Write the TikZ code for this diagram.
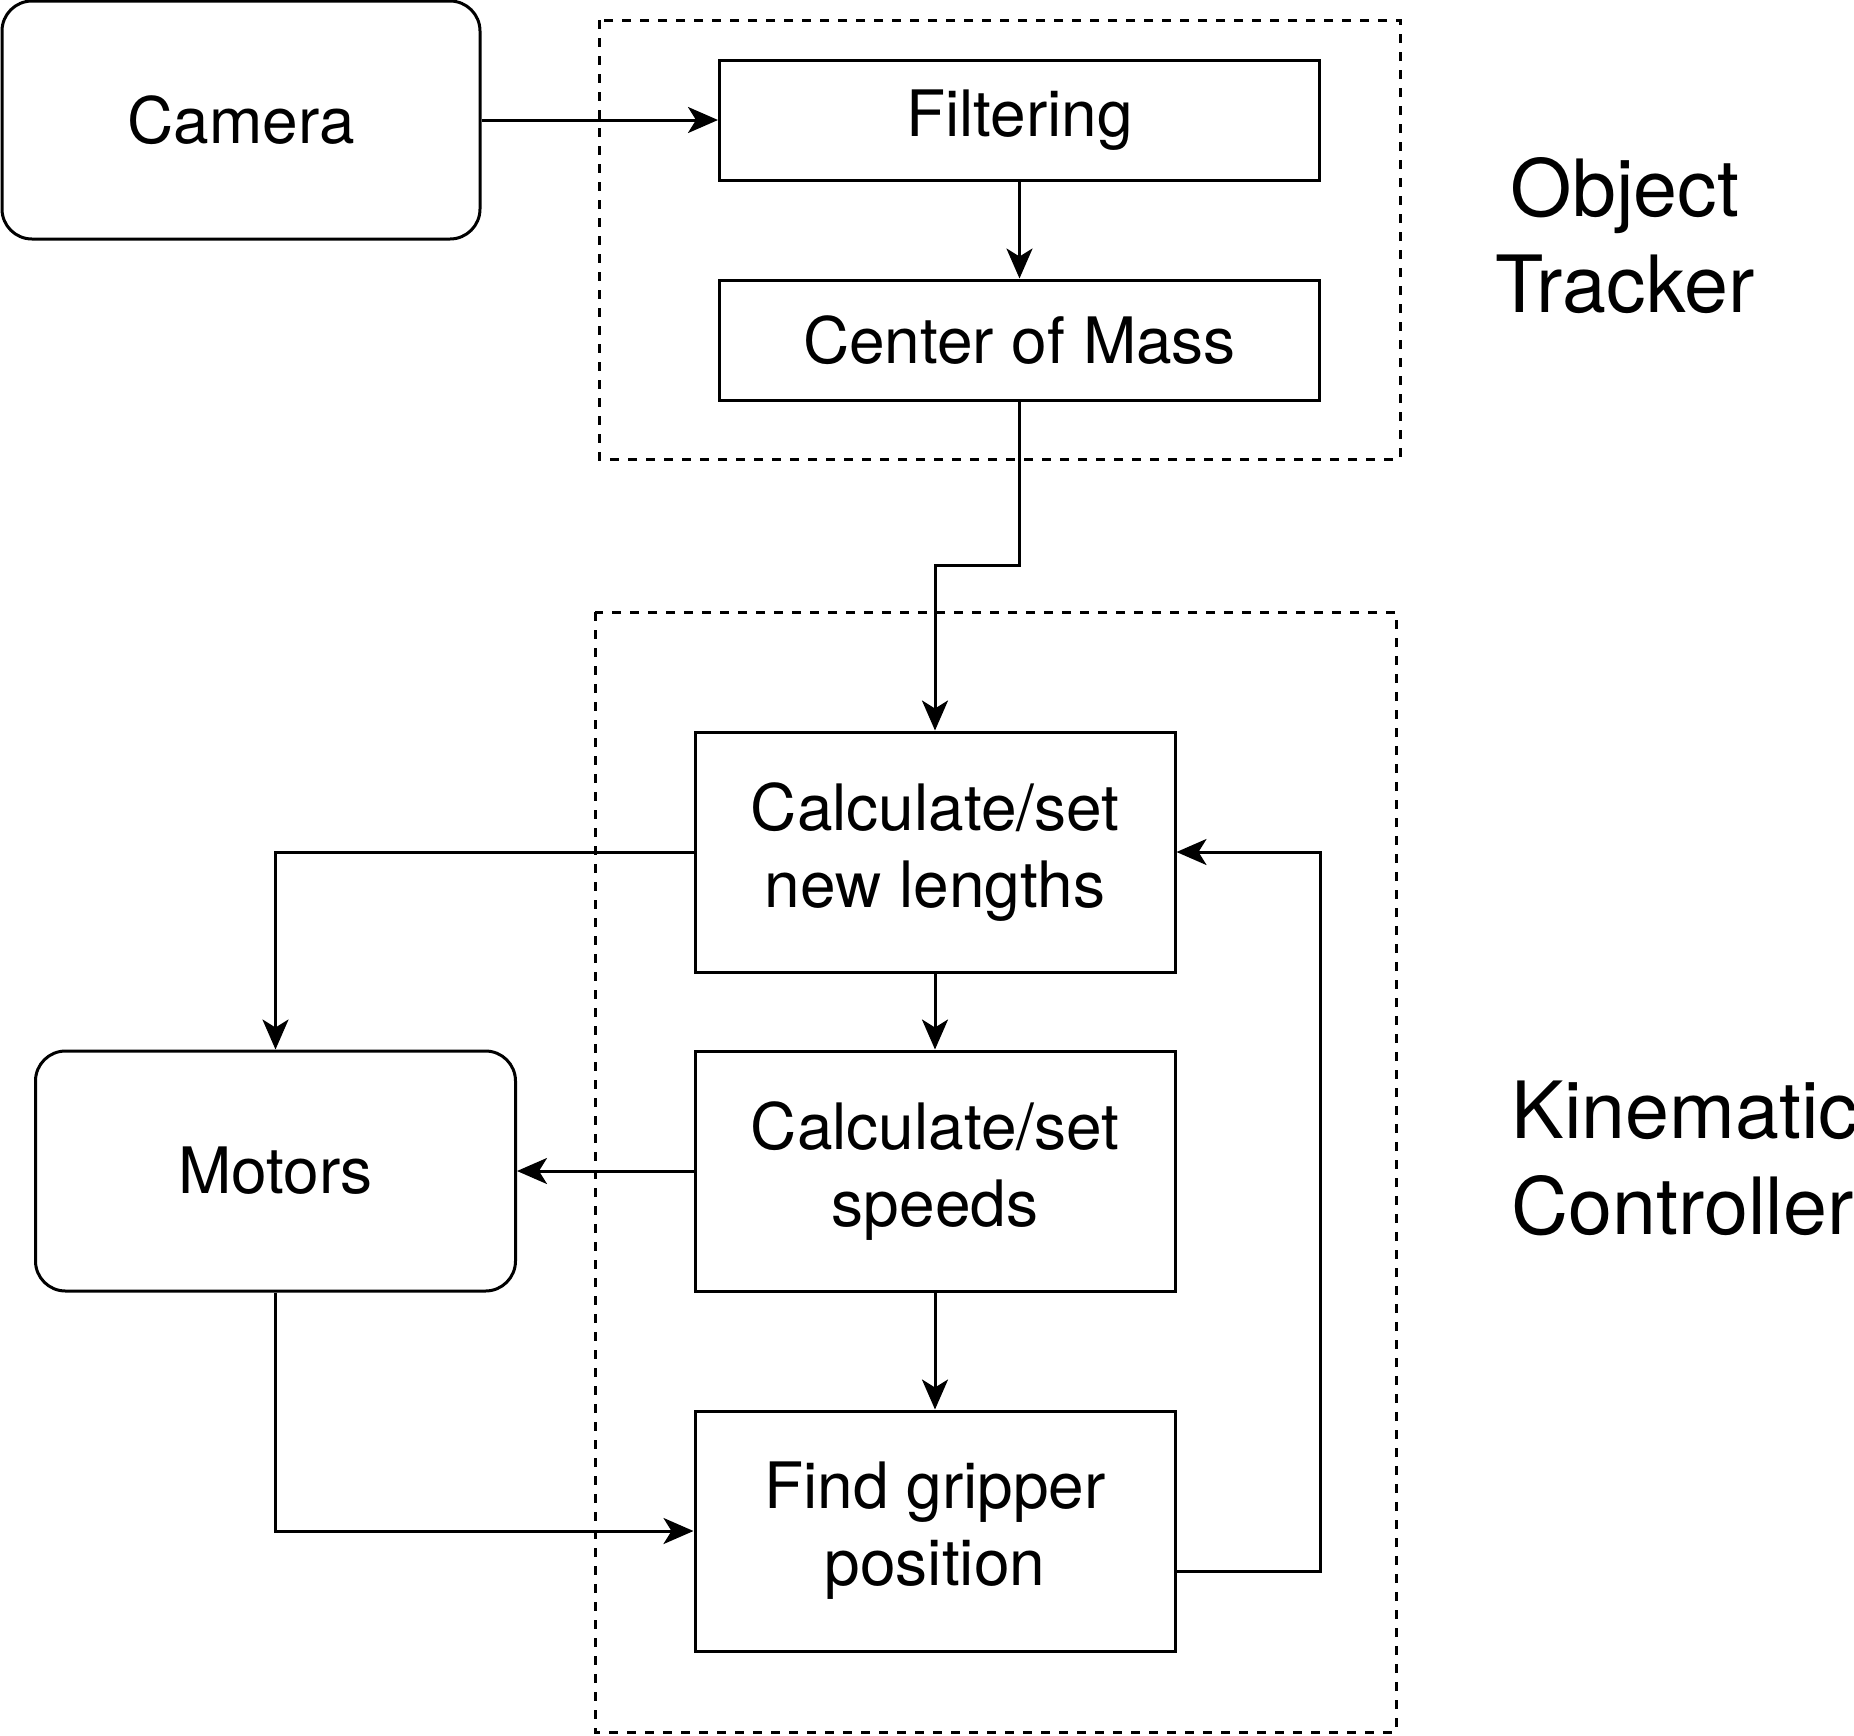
\documentclass[tikz,border=0pt]{standalone}
\usepackage{fontspec}
\setmainfont{TeX Gyre Heros}
\usetikzlibrary{arrows.meta,positioning}

\tikzset{
  blk/.style={draw, line width=1.5pt, minimum width=240pt, minimum height=120pt,
    align=center, inner sep=0pt, font=\fontsize{32}{38.5}\selectfont},
  rblk/.style={blk, rounded corners=15pt},
  grp/.style={draw, line width=1.5pt, dash pattern=on 4.5pt off 4.5pt},
  lbl/.style={inner sep=0pt, font=\fontsize{39.5}{48}\selectfont},
  conn/.style={line width=1.5pt, -{Stealth[length=15pt,width=13pt,inset=4pt]}}
}

\begin{document}
\begin{tikzpicture}[x=0.5pt,y=-0.5pt]
		%%%%% START %%%%%
		\useasboundingbox (0,0) rectangle (1854,1736);
		
		% object tracker group
		\draw[grp] (599,20) rectangle (1400,459);
		\node[lbl, align=center] (otlbl) at (1625,236) {Object\\Tracker};
		
		% kinematic controller group
		\draw[grp] (595,612) rectangle (1396,1732);
		\node[lbl, align=left, anchor=west] (kclbl) at (1511,1158) {Kinematic\\Controller};
		
		\node[rblk, minimum width=239pt, minimum height=119pt] (camera) at (241,120) {Camera};
		\node[blk, minimum width=300pt, minimum height=60pt] (filter) at (1019.5,120) {Filtering};
		\node[blk, minimum width=300pt, minimum height=60pt] (com) at (1019.5,340) {Center of Mass};
		
		\node[blk] (newlen) at (935,852) {Calculate/set\\new lengths};
		\node[blk] (speeds) at (935,1171) {Calculate/set\\speeds};
		\node[blk] (grip) at (935,1531) {Find gripper\\position};
		\node[rblk] (motors) at (275.5,1171) {Motors};
		
		\coordinate (bend) at (1019.5,565);
		\coordinate (fb) at (1320,1571);
		
		\draw[conn] (camera) -- (filter);
		\draw[conn] (filter) -- (com);
		\draw[conn] (com.south) -- (bend) -| (newlen.north);
		\draw[conn] (newlen.west) -| (motors.north);
		\draw[conn] (newlen) -- (speeds);
		\draw[conn] (speeds.west) -- (motors.east);
		\draw[conn] (speeds) -- (grip);
		\draw[conn] (motors.south) |- (grip.west);
		\draw[conn] (grip.east |- fb) -- (fb) |- (newlen.east);
		%%%%% END %%%%%
\end{tikzpicture}
\end{document}
